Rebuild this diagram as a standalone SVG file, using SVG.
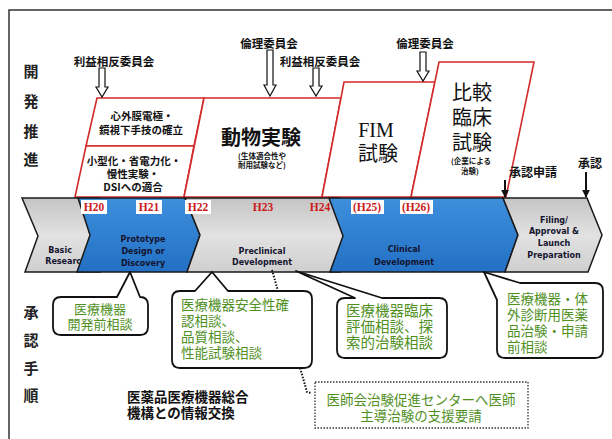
<svg xmlns="http://www.w3.org/2000/svg" width="612" height="439" viewBox="0 0 612 439">
<style>
.jp{font-family:"Noto Sans CJK JP","Noto Sans",sans-serif}
.b{font-weight:bold}
.side{font-family:"Noto Sans CJK JP",sans-serif;font-weight:bold;font-size:15px;fill:#222;text-anchor:middle}
.cmt{font-family:"Noto Sans CJK JP",sans-serif;font-weight:bold;font-size:11.5px;fill:#111;text-anchor:middle}
.red{fill:#fff;stroke:#d42a2a;stroke-width:1.6;stroke-linejoin:miter}
.hol{fill:#fff;stroke:#111;stroke-width:1.2}
.band{stroke:#1a1a1a;stroke-width:1.5;stroke-linejoin:miter}
.bt{font-family:"DejaVu Sans",sans-serif;font-weight:bold;font-size:8px;fill:#14142e;text-anchor:middle}
.yr{font-family:"Liberation Serif",serif;font-weight:bold;font-size:11.5px;fill:#cc1a1a;text-anchor:middle}
.call{fill:#fff;stroke:#111;stroke-width:1.8;stroke-linejoin:round}
.gr{font-family:"Noto Sans CJK JP",sans-serif;font-size:13.5px;fill:#4f901f}
.sm{font-family:"Noto Sans CJK JP",sans-serif;font-weight:bold;font-size:10.5px;fill:#111;text-anchor:middle}
.tiny{font-family:"Noto Sans CJK JP",sans-serif;font-weight:bold;font-size:7.5px;fill:#111;text-anchor:middle}
.big{font-family:"Noto Sans CJK JP",sans-serif;font-size:20px;fill:#111;text-anchor:middle}
</style>
<defs>
<linearGradient id="gGray" x1="0" y1="0" x2="0" y2="1">
<stop offset="0" stop-color="#c4c4c4"/>
<stop offset="0.5" stop-color="#e2e2e2"/>
<stop offset="1" stop-color="#cfcfcf"/>
</linearGradient>
<linearGradient id="gBlue" x1="0" y1="0" x2="0" y2="1">
<stop offset="0" stop-color="#3d8fdc"/>
<stop offset="1" stop-color="#2370c4"/>
</linearGradient>
<marker id="ah" viewBox="0 0 10 10" refX="9" refY="5" markerWidth="4" markerHeight="4" orient="auto">
<path d="M0,0 L10,5 L0,10 Z" fill="#111"/>
</marker>
</defs>
<rect width="612" height="439" fill="#fff"/>
<rect x="9" y="10" width="612" height="440" fill="none" stroke="#333" stroke-width="1.5"/>

<g id="side-labels">
<text class="side" x="31" y="77">開</text>
<text class="side" x="31" y="107">発</text>
<text class="side" x="31" y="137">推</text>
<text class="side" x="31" y="165">進</text>
<text class="side" x="31" y="318">承</text>
<text class="side" x="31" y="346">認</text>
<text class="side" x="31" y="374">手</text>
<text class="side" x="31" y="401">順</text>
</g>

<g id="committees">
<text class="cmt" x="114" y="66">利益相反委員会</text>
<text class="cmt" x="269" y="48">倫理委員会</text>
<text class="cmt" x="320" y="66">利益相反委員会</text>
<text class="cmt" x="425" y="48">倫理委員会</text>
</g>

<g id="phase-boxes">
<g id="box-electrode"><polygon class="red" points="97,98 204,98 194,146 86,146"/>
<text class="sm" x="142" y="120">心外膜電極・</text>
<text class="sm" x="141" y="134">鏡視下手技の確立</text></g>
<g id="box-miniature"><polygon class="red" points="86,146 194,146 184,197 75,197"/>
<text class="sm" x="134" y="165">小型化・省電力化・</text>
<text class="sm" x="133" y="178">慢性実験・</text>
<text class="sm" x="133" y="191">DSIへの適合</text></g>
<g id="box-animal"><polygon class="red" points="204,98 341,98 322,197 184,197"/>
<text class="big b" x="261" y="145">動物実験</text>
<text class="tiny" x="262" y="159">(生体適合性や</text>
<text class="tiny" x="262" y="168">耐用試験など)</text></g>
<g id="box-fim"><polygon class="red" points="344,82 435,82 411,197 322,197"/>
<text x="376" y="137" style="font-family:'Liberation Serif',serif;font-size:20px;fill:#111;text-anchor:middle">FIM</text>
<text class="big" x="378" y="161">試験</text></g>
<g id="box-compare"><polygon class="red" points="439,62 534,62 506,197 411,197"/>
<text class="big" x="472" y="100">比較</text>
<text class="big" x="472" y="125">臨床</text>
<text class="big" x="472" y="150">試験</text>
<text class="tiny" x="471" y="164">(企業による</text>
<text class="tiny" x="470" y="174">治験)</text></g>
</g>

<g id="approval-labels">
<text class="cmt" x="533" y="177" style="font-size:12px">承認申請</text>
<text class="cmt" x="590" y="168" style="font-size:12px">承認</text>
</g>

<g id="band">
<g id="chev-basic"><polygon class="band" fill="url(#gGray)" points="22,198 100,198 112,235 100,272 25,272 38,236"/>
<text class="bt" x="60" y="253">Basic</text>
<text class="bt" x="66" y="264">Research</text></g>
<g id="chev-prototype"><polygon class="band" fill="url(#gBlue)" points="78,198 185,198 200,235 187,272 77,272 90,235"/>
<text class="bt" x="143" y="242">Prototype</text>
<text class="bt" x="143" y="254">Design or</text>
<text class="bt" x="143" y="266">Discovery</text></g>
<g id="chev-preclinical"><polygon class="band" fill="url(#gGray)" points="185,198 340,198 352,236 340,272 187,272 200,235"/>
<text class="bt" x="262" y="254">Preclinical</text>
<text class="bt" x="262" y="265">Development</text></g>
<g id="chev-clinical"><polygon class="band" fill="url(#gBlue)" points="329,198 503,198 518,235 505,272 330,272 343,236"/>
<text class="bt" x="404" y="252">Clinical</text>
<text class="bt" x="404" y="265">Development</text></g>
<g id="chev-filing"><polygon class="band" fill="url(#gGray)" points="503,198 587,198 602,235 588,272 505,272 518,235"/>
<text class="bt" x="554" y="223">Filing/</text>
<text class="bt" x="554" y="234">Approval &amp;</text>
<text class="bt" x="554" y="246">Launch</text>
<text class="bt" x="554" y="258">Preparation</text></g>
</g>

<g id="years">
<rect x="81" y="200" width="26" height="14" fill="#fff"/><text class="yr" x="94" y="211">H20</text>
<rect x="136" y="200" width="26" height="14" fill="#fff"/><text class="yr" x="149" y="211">H21</text>
<rect x="185" y="200" width="26" height="14" fill="#fff"/><text class="yr" x="198" y="211">H22</text>
<text class="yr" x="263" y="211">H23</text>
<text class="yr" x="320" y="211">H24</text>
<rect x="351" y="200" width="33" height="14" fill="#fff"/><text class="yr" x="367" y="211">(H25)</text>
<rect x="400" y="200" width="33" height="14" fill="#fff"/><text class="yr" x="416" y="211">(H26)</text>
</g>

<g id="connectors">
<path class="hol" d="M99,68 H105 V87 H108 L102,97 L96,87 H99 Z"/>
<path class="hol" d="M267,50 H273 V85 H276 L270,96 L264,85 H267 Z"/>
<path class="hol" d="M313,68 H319 V86 H322 L316,96 L310,86 H313 Z"/>
<path class="hol" d="M420,52 H426 V71 H429 L423,81 L417,71 H420 Z"/>
<line x1="505" y1="180" x2="505" y2="197" stroke="#111" stroke-width="2" marker-end="url(#ah)"/>
<line x1="586" y1="172" x2="586" y2="197" stroke="#111" stroke-width="2" marker-end="url(#ah)"/>
<polyline points="272,270 307,392 311,393" fill="none" stroke="#111" stroke-width="2" stroke-dasharray="1.5,1.5"/>
</g>

<g id="callout-predev">
<path class="call" d="M61,297 H117 L130,272 L140,297 Q148,297 148,305 V327 Q148,335 140,335 H61 Q53,335 53,327 V305 Q53,297 61,297 Z"/>
<text class="gr" x="100" y="314" text-anchor="middle" style="font-size:13px">医療機器</text>
<text class="gr" x="100" y="329" text-anchor="middle" style="font-size:13px">開発前相談</text>
</g>
<g id="callout-safety">
<path class="call" d="M180,291 H195 L212,272 L228,291 H304 Q312,291 312,299 V360 Q312,368 304,368 H180 Q172,368 172,360 V299 Q172,291 180,291 Z"/>
<text class="gr" x="181" y="310">医療機器安全性確</text>
<text class="gr" x="181" y="326">認相談、</text>
<text class="gr" x="181" y="342">品質相談、</text>
<text class="gr" x="181" y="358">性能試験相談</text>
</g>
<g id="callout-clinical">
<path class="call" d="M345,298 H355 L296,271 L382,298 H439 Q447,298 447,306 V350 Q447,358 439,358 H345 Q337,358 337,350 V306 Q337,298 345,298 Z"/>
<text class="gr" x="346" y="316" style="font-size:14.5px">医療機器臨床</text>
<text class="gr" x="346" y="332" style="font-size:14.5px">評価相談、探</text>
<text class="gr" x="346" y="348" style="font-size:14.5px">索的治験相談</text>
</g>
<g id="callout-filing">
<path class="call" d="M520,283 H595 Q603,283 603,291 V350 Q603,358 595,358 H505 Q497,358 497,350 V300 L484,272 Z"/>
<text class="gr" x="507" y="304">医療機器・体</text>
<text class="gr" x="507" y="320">外診断用医薬</text>
<text class="gr" x="507" y="336">品治験・申請</text>
<text class="gr" x="507" y="352">前相談</text>
</g>

<g id="pmda-note">
<text class="jp b" x="127" y="402" style="font-size:13.5px;fill:#111">医薬品医療機器総合</text>
<text class="jp b" x="127" y="418" style="font-size:13.5px;fill:#111">機構との情報交換</text>
</g>

<g id="doctor-support">
<rect x="315" y="382" width="213" height="46" fill="#fff" stroke="#333" stroke-width="1.3" stroke-dasharray="1.5,1.5"/>
<text class="gr" x="421" y="405" text-anchor="middle">医師会治験促進センターへ医師</text>
<text class="gr" x="421" y="421" text-anchor="middle">主導治験の支援要請</text>
</g>
</svg>
